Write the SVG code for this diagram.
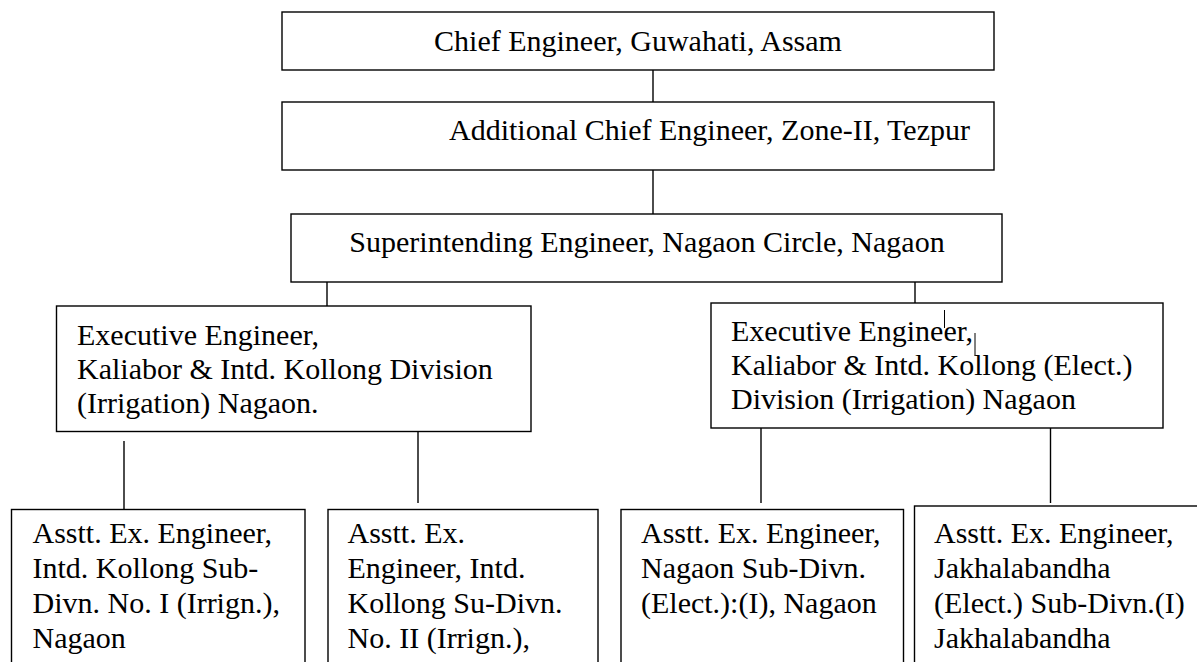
<svg xmlns="http://www.w3.org/2000/svg" width="1197" height="662" viewBox="0 0 1197 662">
<style>
.box{fill:#fff;stroke:#000;stroke-width:1.4}
.ln{stroke:#000;stroke-width:1.4;fill:none}
.art{stroke:#000;stroke-width:1;fill:none}
text{font-family:"Liberation Serif","Times New Roman",serif;font-size:30px;fill:#000}
</style>
<rect width="1197" height="662" fill="#fff"/>
<g id="connectors">
<line class="ln" x1="653" y1="70" x2="653" y2="102"/>
<line class="ln" x1="653" y1="168" x2="653" y2="214"/>
<line class="ln" x1="327" y1="279" x2="327" y2="306"/>
<line class="ln" x1="915" y1="281" x2="915" y2="303"/>
<line class="ln" x1="124" y1="441" x2="124" y2="509"/>
<line class="ln" x1="418" y1="431" x2="418" y2="503"/>
<line class="ln" x1="761" y1="428" x2="761" y2="503"/>
<line class="ln" x1="1050.5" y1="428" x2="1050.5" y2="503"/>
</g>
<g id="chief">
<rect class="box" x="282" y="12" width="712" height="58"/>
<text x="638" y="51" text-anchor="middle">Chief Engineer, Guwahati, Assam</text>
</g>
<g id="addl-chief">
<rect class="box" x="282" y="102" width="712" height="68"/>
<text x="449" y="140">Additional Chief Engineer, Zone-II, Tezpur</text>
</g>
<g id="superintending">
<rect class="box" x="291" y="214" width="711" height="68"/>
<text x="647" y="252" text-anchor="middle">Superintending Engineer, Nagaon Circle, Nagaon</text>
</g>
<g id="exec-left">
<rect class="box" x="56.5" y="306" width="474.5" height="125.5"/>
<text x="77" y="345">Executive Engineer,</text>
<text x="77" y="379">Kaliabor &amp; Intd. Kollong Division</text>
<text x="77" y="413">(Irrigation) Nagaon.</text>
</g>
<g id="exec-right">
<rect class="box" x="711" y="303" width="452" height="125"/>
<text x="731" y="341">Executive Engineer,</text>
<text x="731" y="375">Kaliabor &amp; Intd. Kollong (Elect.)</text>
<text x="731" y="409">Division (Irrigation) Nagaon</text>
<line class="art" x1="944.5" y1="310" x2="944.5" y2="328"/>
<line class="art" x1="975" y1="333" x2="975" y2="356"/>
</g>
<g id="asst-1">
<rect class="box" x="11.5" y="509.5" width="293.5" height="200"/>
<text x="32.5" y="543">Asstt. Ex. Engineer,</text>
<text x="32.5" y="578">Intd. Kollong Sub-</text>
<text x="32.5" y="613">Divn. No. I (Irrign.),</text>
<text x="32.5" y="648">Nagaon</text>
</g>
<g id="asst-2">
<rect class="box" x="328" y="509.5" width="270" height="200"/>
<text x="347.5" y="543">Asstt. Ex.</text>
<text x="347.5" y="578">Engineer, Intd.</text>
<text x="347.5" y="613">Kollong Su-Divn.</text>
<text x="347.5" y="648">No. II (Irrign.),</text>
</g>
<g id="asst-3">
<rect class="box" x="621" y="509.5" width="282.5" height="200"/>
<text x="641" y="543">Asstt. Ex. Engineer,</text>
<text x="641" y="578">Nagaon Sub-Divn.</text>
<text x="641" y="613">(Elect.):(I), Nagaon</text>
</g>
<g id="asst-4">
<rect class="box" x="914.5" y="506" width="300" height="200"/>
<text x="934" y="543">Asstt. Ex. Engineer,</text>
<text x="934" y="578">Jakhalabandha</text>
<text x="934" y="613">(Elect.) Sub-Divn.(I)</text>
<text x="934" y="648">Jakhalabandha</text>
</g>
</svg>
